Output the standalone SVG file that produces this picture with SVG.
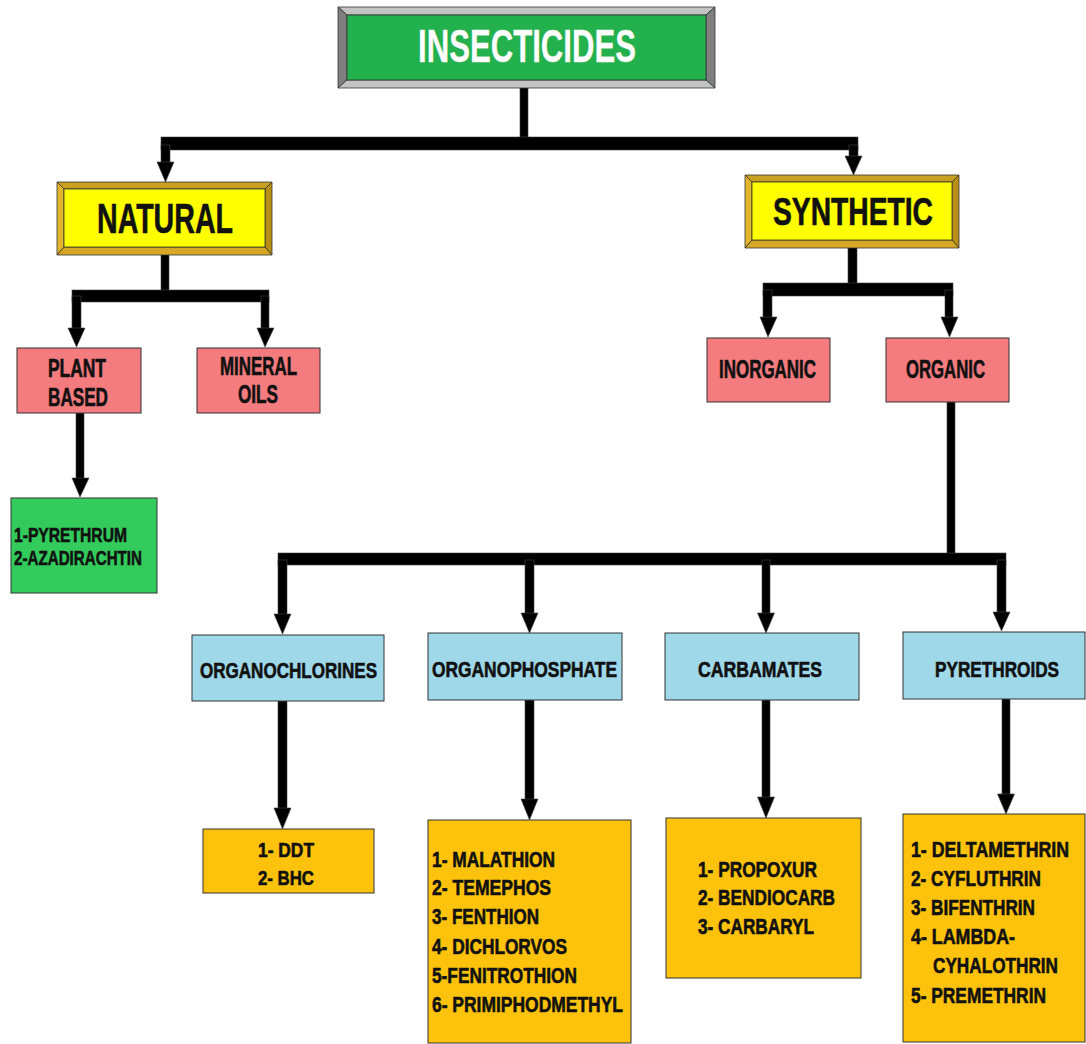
<svg xmlns="http://www.w3.org/2000/svg" width="1086" height="1044" viewBox="0 0 1086 1044">
<style>
.t{font-family:"Liberation Sans Narrow","Liberation Sans",Arial,sans-serif;font-weight:bold;fill:#111;stroke:#111;stroke-width:0.6}
.w{fill:#fff;stroke:#eee;stroke-width:0.4}
.box{stroke:#333;stroke-width:1}
.pink{fill:#f47b7e}
.blue{fill:#9fd8e9}
.orange{fill:#fdc30c}
.green2{fill:#33cc5c}
.bv{stroke:#333;stroke-width:0.8}
.c{fill:#000;stroke:#444;stroke-width:0.6}
</style>
<rect width="1086" height="1044" fill="#fff"/>
<g id="connectors">
<rect class="c" x="520" y="87" width="8" height="52"/>
<rect class="c" x="161" y="137" width="697" height="13"/>
<rect class="c" x="161" y="145" width="9" height="18"/>
<polygon class="c" points="157,162 174,162 165.5,182"/>
<rect class="c" x="849" y="145" width="9" height="12"/>
<polygon class="c" points="845,156 862,156 853.5,175"/>
<rect class="c" x="161" y="254" width="8" height="38"/>
<rect class="c" x="72" y="290" width="197" height="12"/>
<rect class="c" x="72" y="296" width="9" height="33"/>
<polygon class="c" points="68,328 85,328 76.5,347"/>
<rect class="c" x="261" y="296" width="8" height="33"/>
<polygon class="c" points="257,328 274,328 265,347"/>
<rect class="c" x="76" y="413" width="8" height="66"/>
<polygon class="c" points="72,478 89,478 80,497"/>
<rect class="c" x="848" y="247" width="9" height="38"/>
<rect class="c" x="763" y="283" width="190" height="13"/>
<rect class="c" x="763" y="290" width="9" height="28"/>
<polygon class="c" points="760,317 777,317 768,337"/>
<rect class="c" x="945" y="290" width="8" height="28"/>
<polygon class="c" points="941,317 958,317 949.5,337"/>
<rect class="c" x="947" y="402" width="8" height="153"/>
<rect class="c" x="278" y="553" width="728" height="12"/>
<rect class="c" x="278" y="560" width="9" height="55"/>
<polygon class="c" points="274,614 291,614 282.5,634"/>
<rect class="c" x="525" y="560" width="9" height="54"/>
<polygon class="c" points="521,613 538,613 529.5,633"/>
<rect class="c" x="762" y="560" width="8" height="54"/>
<polygon class="c" points="757.5,613 774.5,613 766,633"/>
<rect class="c" x="997" y="560" width="9" height="53"/>
<polygon class="c" points="993,612 1010,612 1001.5,631"/>
<rect class="c" x="278" y="701" width="9" height="108"/>
<polygon class="c" points="274,808 291,808 282.5,829"/>
<rect class="c" x="525" y="700" width="9" height="100"/>
<polygon class="c" points="521,799 538,799 529.5,820"/>
<rect class="c" x="762" y="700" width="8" height="98"/>
<polygon class="c" points="757.5,797 774.5,797 766,818"/>
<rect class="c" x="1002" y="699" width="8" height="96"/>
<polygon class="c" points="997.5,794 1014.5,794 1006,814"/>
</g>
<g id="insecticides">
<rect x="338" y="7" width="377" height="81" fill="#22b14c"/>
<polygon class="bv" points="338,7 715,7 706,15 347,15" fill="#c3c3c3"/>
<polygon class="bv" points="338,7 347,15 347,80 338,88" fill="#7f7f7f"/>
<polygon class="bv" points="715,7 715,88 706,80 706,15" fill="#7f7f7f"/>
<polygon class="bv" points="338,88 347,80 706,80 715,88" fill="#c3c3c3"/>
<rect x="347" y="15" width="359" height="65" fill="#22b14c" stroke="#333" stroke-width="0.8"/>
<text class="t w" x="418" y="62" font-size="46" textLength="218" lengthAdjust="spacingAndGlyphs">INSECTICIDES</text>
</g>
<g id="natural">
<rect x="57" y="182" width="215" height="73" fill="#ffff00"/>
<polygon class="bv" points="57,182 272,182 265,189 64,189" fill="#c9a020"/>
<polygon class="bv" points="57,182 64,189 64,247 57,255" fill="#e2b52a"/>
<polygon class="bv" points="272,182 272,255 265,247 265,189" fill="#b88e14"/>
<polygon class="bv" points="57,255 64,247 265,247 272,255" fill="#d6a826"/>
<rect x="64" y="189" width="201" height="58" fill="#ffff00" stroke="#333" stroke-width="0.8"/>
<text class="t" x="97" y="233" font-size="42" textLength="136" lengthAdjust="spacingAndGlyphs">NATURAL</text>
</g>
<g id="synthetic">
<rect x="745" y="175" width="214" height="73" fill="#ffff00"/>
<polygon class="bv" points="745,175 959,175 952,182 752,182" fill="#c9a020"/>
<polygon class="bv" points="745,175 752,182 752,240 745,248" fill="#e2b52a"/>
<polygon class="bv" points="959,175 959,248 952,240 952,182" fill="#b88e14"/>
<polygon class="bv" points="745,248 752,240 952,240 959,248" fill="#d6a826"/>
<rect x="752" y="182" width="200" height="58" fill="#ffff00" stroke="#333" stroke-width="0.8"/>
<text class="t" x="773" y="225" font-size="38" textLength="160" lengthAdjust="spacingAndGlyphs">SYNTHETIC</text>
</g>
<g id="plant-based">
<rect class="box pink" x="17" y="348" width="124" height="65"/>
<text class="t" x="48" y="377" font-size="25" textLength="58" lengthAdjust="spacingAndGlyphs">PLANT</text>
<text class="t" x="48" y="406" font-size="25" textLength="60" lengthAdjust="spacingAndGlyphs">BASED</text>
</g>
<g id="mineral-oils">
<rect class="box pink" x="197" y="348" width="123" height="65"/>
<text class="t" x="220" y="375" font-size="25" textLength="77" lengthAdjust="spacingAndGlyphs">MINERAL</text>
<text class="t" x="238" y="403" font-size="25" textLength="40" lengthAdjust="spacingAndGlyphs">OILS</text>
</g>
<g id="plant-list">
<rect class="box green2" x="11" y="498" width="146" height="95"/>
<text class="t" x="14" y="542" font-size="21" textLength="113" lengthAdjust="spacingAndGlyphs">1-PYRETHRUM</text>
<text class="t" x="14" y="565" font-size="21" textLength="128" lengthAdjust="spacingAndGlyphs">2-AZADIRACHTIN</text>
</g>
<g id="inorganic">
<rect class="box pink" x="707" y="338" width="123" height="64"/>
<text class="t" x="719" y="378" font-size="25" textLength="97" lengthAdjust="spacingAndGlyphs">INORGANIC</text>
</g>
<g id="organic">
<rect class="box pink" x="886" y="338" width="123" height="64"/>
<text class="t" x="906" y="378" font-size="25" textLength="79" lengthAdjust="spacingAndGlyphs">ORGANIC</text>
</g>
<g id="organochlorines">
<rect class="box blue" x="192" y="635" width="192" height="66"/>
<text class="t" x="200" y="678" font-size="22" textLength="177" lengthAdjust="spacingAndGlyphs">ORGANOCHLORINES</text>
</g>
<g id="organophosphate">
<rect class="box blue" x="428" y="633" width="194" height="67"/>
<text class="t" x="432" y="677" font-size="22" textLength="185" lengthAdjust="spacingAndGlyphs">ORGANOPHOSPHATE</text>
</g>
<g id="carbamates">
<rect class="box blue" x="665" y="633" width="194" height="67"/>
<text class="t" x="698" y="677" font-size="22" textLength="124" lengthAdjust="spacingAndGlyphs">CARBAMATES</text>
</g>
<g id="pyrethroids">
<rect class="box blue" x="903" y="632" width="182" height="67"/>
<text class="t" x="935" y="677" font-size="22" textLength="124" lengthAdjust="spacingAndGlyphs">PYRETHROIDS</text>
</g>
<g id="organochlorine-list">
<rect class="box orange" x="203" y="829" width="171" height="64"/>
<text class="t" x="258" y="857" font-size="21" textLength="56" lengthAdjust="spacingAndGlyphs">1- DDT</text>
<text class="t" x="258" y="885" font-size="21" textLength="56" lengthAdjust="spacingAndGlyphs">2- BHC</text>
</g>
<g id="organophosphate-list">
<rect class="box orange" x="428" y="820" width="203" height="223"/>
<text class="t" x="432" y="867" font-size="22" textLength="123" lengthAdjust="spacingAndGlyphs">1- MALATHION</text>
<text class="t" x="432" y="895" font-size="22" textLength="119" lengthAdjust="spacingAndGlyphs">2- TEMEPHOS</text>
<text class="t" x="432" y="924" font-size="22" textLength="107" lengthAdjust="spacingAndGlyphs">3- FENTHION</text>
<text class="t" x="432" y="954" font-size="22" textLength="135" lengthAdjust="spacingAndGlyphs">4- DICHLORVOS</text>
<text class="t" x="432" y="983" font-size="22" textLength="145" lengthAdjust="spacingAndGlyphs">5-FENITROTHION</text>
<text class="t" x="432" y="1012" font-size="22" textLength="191" lengthAdjust="spacingAndGlyphs">6- PRIMIPHODMETHYL</text>
</g>
<g id="carbamate-list">
<rect class="box orange" x="666" y="818" width="195" height="160"/>
<text class="t" x="698" y="877" font-size="22" textLength="119" lengthAdjust="spacingAndGlyphs">1- PROPOXUR</text>
<text class="t" x="698" y="905" font-size="22" textLength="137" lengthAdjust="spacingAndGlyphs">2- BENDIOCARB</text>
<text class="t" x="698" y="934" font-size="22" textLength="116" lengthAdjust="spacingAndGlyphs">3- CARBARYL</text>
</g>
<g id="pyrethroid-list">
<rect class="box orange" x="903" y="814" width="182" height="228"/>
<text class="t" x="911" y="857" font-size="22" textLength="158" lengthAdjust="spacingAndGlyphs">1- DELTAMETHRIN</text>
<text class="t" x="911" y="886" font-size="22" textLength="130" lengthAdjust="spacingAndGlyphs">2- CYFLUTHRIN</text>
<text class="t" x="911" y="915" font-size="22" textLength="124" lengthAdjust="spacingAndGlyphs">3- BIFENTHRIN</text>
<text class="t" x="911" y="944" font-size="22" textLength="104" lengthAdjust="spacingAndGlyphs">4- LAMBDA-</text>
<text class="t" x="933" y="973" font-size="22" textLength="125" lengthAdjust="spacingAndGlyphs">CYHALOTHRIN</text>
<text class="t" x="911" y="1003" font-size="22" textLength="135" lengthAdjust="spacingAndGlyphs">5- PREMETHRIN</text>
</g>
</svg>
